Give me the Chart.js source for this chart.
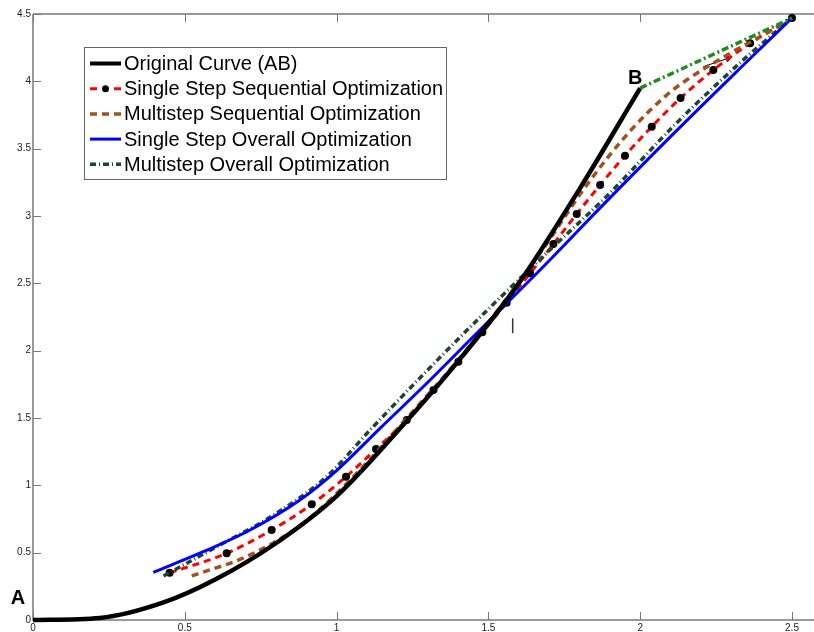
<!DOCTYPE html>
<html>
<head>
<meta charset="utf-8">
<script src="https://cdn.jsdelivr.net/npm/chart.js@4/dist/chart.umd.min.js"></script>
<style>
  html, body { margin: 0; padding: 0; background: #fff; }
  canvas { display: block; }
</style>
</head>
<body>
<canvas id="chart" width="814" height="632"></canvas>
<script>
// tick values / labels
const xTickVals = [0, 0.5, 1, 1.5, 2, 2.5];
const xTickLabels = ['0', '0.5', '1', '1.5', '2', '2.5'];
const yTickVals = [0, 0.5, 1, 1.5, 2, 2.5, 3, 3.5, 4, 4.5];
const yTickLabels = ['0', '0.5', '1', '1.5', '2', '2.5', '3', '3.5', '4', '4.5'];

// Original Curve (AB)
const origX = [0, 0.22, 0.43, 0.6, 0.8, 1.0, 1.2, 1.4, 1.6, 1.8, 2.0];
const origY = [0, 0.015, 0.13, 0.30, 0.57, 0.92, 1.40, 1.92, 2.50, 3.20, 3.95];

// Single Step Sequential Optimization (red dashes, black dots)
const sssX = [0.45, 0.638, 0.786, 0.918, 1.031, 1.13, 1.231, 1.319, 1.401, 1.48, 1.56, 1.637, 1.714, 1.791, 1.868, 1.95, 2.038, 2.133, 2.241, 2.362, 2.5];
const sssY = [0.35, 0.495, 0.668, 0.859, 1.064, 1.27, 1.485, 1.708, 1.918, 2.137, 2.355, 2.574, 2.792, 3.015, 3.23, 3.448, 3.663, 3.876, 4.084, 4.282, 4.47];

// Multistep Sequential Optimization (brown dashes)
const mssX = [0.523, 0.715, 0.89, 1.066, 1.22, 1.4, 1.5, 1.67, 1.824, 1.955, 2.087, 2.153, 2.296, 2.438, 2.5];
const mssY = [0.327, 0.483, 0.718, 1.089, 1.47, 1.93, 2.21, 2.723, 3.23, 3.601, 3.898, 4.01, 4.208, 4.385, 4.47];

// Single Step Overall Optimization (blue)
const ssoX = [0.396, 0.561, 0.715, 0.879, 1.0, 1.143, 1.308, 1.505, 1.692, 1.868, 2.109, 2.329, 2.5];
const ssoY = [0.354, 0.507, 0.668, 0.891, 1.11, 1.423, 1.782, 2.228, 2.649, 3.06, 3.61, 4.097, 4.47];

// Multistep Overall Optimization (dark green dash-dot)
const msoX = [0.43, 0.605, 0.80, 0.967, 1.11, 1.308, 1.505, 1.68, 1.9, 2.109, 2.33, 2.5];
const msoY = [0.327, 0.544, 0.79, 1.064, 1.41, 1.875, 2.32, 2.70, 3.17, 3.666, 4.14, 4.47];

// B -> end (green dash-dot), small arrow, small mark
const bExtX = [2.0, 2.5];
const bExtY = [3.95, 4.47];
const arrowX = [2.208, 2.29];
const arrowY = [4.109, 4.171];
const markX = [1.58, 1.58];
const markY = [2.13, 2.24];

const legendNames = [
  'Original Curve (AB)',
  'Single Step Sequential Optimization',
  'Multistep Sequential Optimization',
  'Single Step Overall Optimization',
  'Multistep Overall Optimization'
];

const FONT = "'Liberation Sans', Arial, Helvetica, sans-serif";
const COL = {
  orig: '#000000',
  sss: '#ff0000',
  mss: '#a3501c',
  sso: '#0000ff',
  mso: '#1f4434',
  bext: '#1f8a1f'
};

function pts(xs, ys) {
  return xs.map((x, i) => ({ x: x, y: ys[i] }));
}

function lineSet(label, xs, ys, color, width, dash, extra) {
  return Object.assign({
    label: label,
    data: pts(xs, ys),
    borderColor: color,
    backgroundColor: color,
    borderWidth: width,
    borderDash: dash,
    borderCapStyle: 'butt',
    pointRadius: 0,
    fill: false,
    cubicInterpolationMode: 'monotone',
    clip: 8
  }, extra || {});
}

// axes box with inward ticks (matlab style)
const axesPlugin = {
  id: 'axesBox',
  beforeDatasetsDraw(chart) {
    const { ctx, chartArea: a, scales } = chart;
    ctx.save();
    ctx.strokeStyle = '#9a9a9a';
    ctx.lineWidth = 2;
    ctx.beginPath();
    ctx.moveTo(a.left, a.top);
    ctx.lineTo(chart.width, a.top);
    ctx.moveTo(a.left, a.top);
    ctx.lineTo(a.left, a.bottom);
    ctx.lineTo(chart.width, a.bottom);
    ctx.stroke();
    ctx.strokeStyle = '#777';
    ctx.lineWidth = 1;
    ctx.beginPath();
    xTickVals.forEach(v => {
      const px = Math.round(scales.x.getPixelForValue(v)) + 0.5;
      ctx.moveTo(px, a.bottom);
      ctx.lineTo(px, a.bottom - 8);
      ctx.moveTo(px, a.top);
      ctx.lineTo(px, a.top + 8);
    });
    yTickVals.forEach(v => {
      const py = Math.round(scales.y.getPixelForValue(v)) + 0.5;
      ctx.moveTo(a.left, py);
      ctx.lineTo(a.left + 8, py);
    });
    ctx.stroke();
    ctx.restore();
  },
  afterDraw(chart) {
    const { ctx, scales } = chart;
    ctx.save();
    // point labels A and B
    ctx.fillStyle = '#000';
    ctx.font = 'bold 20px ' + FONT;
    ctx.textAlign = 'center';
    ctx.textBaseline = 'middle';
    ctx.fillText('A', scales.x.getPixelForValue(origX[0]) - 15, scales.y.getPixelForValue(origY[0]) - 22);
    ctx.fillText('B', scales.x.getPixelForValue(origX[origX.length - 1]) - 5, scales.y.getPixelForValue(origY[origY.length - 1]) - 10);

    // legend box
    const lx = 84, ly = 47, lw = 362, lh = 132;
    ctx.fillStyle = '#fff';
    ctx.fillRect(lx, ly, lw, lh);
    ctx.strokeStyle = '#666';
    ctx.lineWidth = 1;
    ctx.strokeRect(lx + 0.5, ly + 0.5, lw, lh);

    const rows = [
      { c: COL.orig, w: 4, d: [] },
      { c: COL.sss, w: 3, d: [7, 5], dot: true },
      { c: COL.mss, w: 3.5, d: [7, 5] },
      { c: COL.sso, w: 3, d: [] },
      { c: COL.mso, w: 3.5, d: [6, 3, 1, 3] }
    ];
    ctx.font = '20px ' + FONT;
    ctx.textAlign = 'left';
    ctx.textBaseline = 'middle';
    rows.forEach((r, i) => {
      const y = 63.5 + i * 25.2;
      ctx.strokeStyle = r.c;
      ctx.lineWidth = r.w;
      ctx.lineCap = 'butt';
      ctx.setLineDash(r.d);
      ctx.beginPath();
      ctx.moveTo(90, y);
      ctx.lineTo(121, y);
      ctx.stroke();
      ctx.setLineDash([]);
      if (r.dot) {
        ctx.fillStyle = '#fff';
        ctx.fillRect(100, y - 3, 11, 6);
        ctx.fillStyle = '#000';
        ctx.beginPath();
        ctx.arc(105.5, y, 3.5, 0, Math.PI * 2);
        ctx.fill();
      }
      ctx.fillStyle = '#000';
      ctx.fillText(legendNames[i], 124, y + 1);
    });
    ctx.restore();
  }
};

const ctx = document.getElementById('chart').getContext('2d');
new Chart(ctx, {
  type: 'line',
  data: {
    datasets: [
      lineSet('mark', markX, markY, '#333', 1.5, [], { cubicInterpolationMode: 'default', tension: 0 }),
      lineSet('bext', bExtX, bExtY, COL.bext, 3.5, [7, 3, 2, 3], { cubicInterpolationMode: 'default', tension: 0 }),
      lineSet(legendNames[0], origX, origY, COL.orig, 4.5, []),
      lineSet(legendNames[3], ssoX, ssoY, COL.sso, 3, []),
      lineSet(legendNames[4], msoX, msoY, COL.mso, 3.5, [6, 3, 1, 3]),
      lineSet(legendNames[2], mssX, mssY, COL.mss, 3.5, [7, 5]),
      lineSet(legendNames[1], sssX, sssY, COL.sss, 3, [7, 5], {
        pointRadius: 4,
        pointBackgroundColor: '#000',
        pointBorderColor: '#000',
        pointBorderWidth: 0
      }),
      lineSet('arrow', arrowX, arrowY, '#000', 1, [], {
        cubicInterpolationMode: 'default',
        tension: 0,
        pointStyle: 'triangle',
        pointRadius: [0, 3.5],
        pointRotation: 72,
        pointBackgroundColor: '#000',
        pointBorderColor: '#000'
      })
    ]
  },
  options: {
    responsive: false,
    animation: false,
    devicePixelRatio: 1,
    layout: { padding: { top: 14, right: 0, left: 0, bottom: 0 } },
    plugins: { legend: { display: false }, tooltip: { enabled: false } },
    scales: {
      x: {
        type: 'linear',
        min: 0,
        max: 2.556,
        grid: { display: false, drawTicks: false },
        border: { display: false },
        afterBuildTicks: s => { s.ticks = xTickVals.map(v => ({ value: v })); },
        afterFit: s => {
          s.height = 12;
        },
        ticks: {
          padding: 2,
          maxRotation: 0,
          autoSkip: false,
          color: '#222',
          font: { family: FONT, size: 10 },
          callback: (v) => xTickLabels[xTickVals.indexOf(v)]
        }
      },
      y: {
        type: 'linear',
        min: 0,
        max: 4.5,
        grid: { display: false, drawTicks: false },
        border: { display: false },
        afterBuildTicks: s => { s.ticks = yTickVals.map(v => ({ value: v })); },
        afterFit: s => {
          s.width = 33;
        },
        ticks: {
          padding: 2,
          autoSkip: false,
          color: '#222',
          font: { family: FONT, size: 10 },
          callback: (v) => yTickLabels[yTickVals.indexOf(v)]
        }
      }
    }
  },
  plugins: [axesPlugin]
});
</script>
</body>
</html>
